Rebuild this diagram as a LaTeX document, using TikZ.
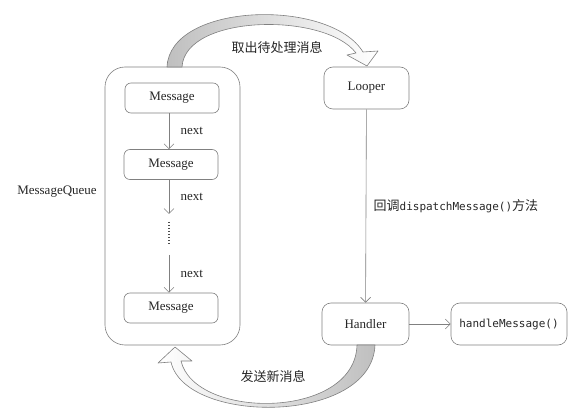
\documentclass[tikz,border=0pt]{standalone}
\usepackage{fontspec}
\setmainfont{Liberation Serif}
\setmonofont{DejaVu Sans Mono}
\newfontfamily\cjk{Noto Sans CJK SC}
\usetikzlibrary{arrows.meta}

\begin{document}
\begin{tikzpicture}[x=1pt,y=-1pt,>={Straight Barb[length=5pt,width=10pt]},
  every node/.style={font=\fontsize{13}{15}\selectfont, text=black!85},
  box/.style={draw=black!50, line width=0.6pt, rounded corners=6pt, minimum width=94pt, minimum height=30pt, inner sep=0pt},
  bigbox/.style={box, rounded corners=9pt, minimum width=86pt, minimum height=42pt},
  link/.style={draw=black!50, line width=0.6pt, ->},
  bigarrow/.style={draw=black!50, line width=0.6pt, line join=round}]
\useasboundingbox (0,0) rectangle (574,417);

% the queue with its messages
\node[box, rounded corners=20pt, minimum width=135pt, minimum height=278pt] (queue) at (172.5,206) {};
\node[box] (msga) at (172,98) {Message};
\node[box] (msgb) at (171,164.5) {Message};
\node[box] (msgc) at (171,308) {Message};
\node (qlabel) at (57,192) {MessageQueue};
\coordinate (gapa) at (169,214);
\coordinate (gapb) at (169,255);

\draw[link] (msga.south -| 169,0) -- (msgb.north -| 169,0) node[midway, right=8pt] {next};
\draw[link] (msgb.south -| 169,0) -- (gapa) node[midway, right=8pt] {next};
\draw[black!70, line width=1.1pt, dash pattern=on 1pt off 2pt] (169,222) -- (169,244);
\draw[link] (gapb) -- (msgc.north -| 169,0) node[midway, right=8pt] {next};

% the looper and the handler
\node[bigbox, minimum width=85pt] (looper) at (366.5,88) {Looper};
\node[bigbox, minimum width=87pt] (handler) at (365.5,324) {Handler};
\node[bigbox, minimum width=116pt] (handle) at (509,324) {\fontsize{11}{13}\selectfont\ttfamily handleMessage()};

\draw[link] (looper) -- (handler)
  node[midway, right=4pt] {{\cjk 回调}{\fontsize{11}{13}\selectfont\ttfamily dispatchMessage()}{\cjk 方法}};
\draw[link] (handler) -- (handle);

% the two curved arrows
\path[bigarrow, left color=gray!50, right color=white]
  (167,67) .. controls (170,2) and (330,-2) .. (363,52) -- (378,51) -- (367,66) -- (347,55)
  -- (356,53) .. controls (325,12) and (185,14) .. (182,67) -- cycle;
\node (fetch) at (277,48) {\cjk 取出待处理消息};

\path[bigarrow, left color=white, right color=gray!50]
  (375,345) .. controls (372,425) and (185,425) .. (171,362) -- (158,363) -- (175,347)
  -- (192,361) -- (181,361) .. controls (195,420) and (355,420) .. (357,345) -- cycle;
\node (send) at (273,377) {\cjk 发送新消息};
\end{tikzpicture}
\end{document}
